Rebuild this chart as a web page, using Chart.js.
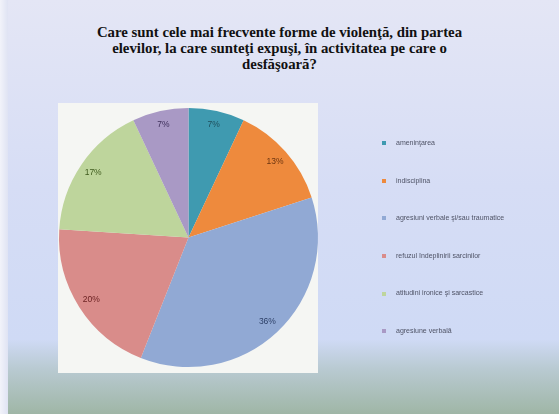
<!DOCTYPE html>
<html lang="ro">
<head>
<meta charset="utf-8"/>
<title>Forme de violenta</title>
<script src="https://cdn.jsdelivr.net/npm/chart.js"></script>
<style>
    html, body { margin: 0; padding: 0; }
    body {
        width: 559px; height: 414px; overflow: hidden; position: relative;
        background: linear-gradient(to bottom, #e4e6f5 0%, #d6ddf5 45%, #cfdaf5 82%, #b9cad2 89%, #9fb6a6 100%);
    }
    #edge { position: absolute; left: 0; top: 0; width: 8px; height: 414px;
        background: linear-gradient(to right, #f2f3fa, #dfe3f3); }
    #title {
        position: absolute; left: 0; top: 25px; width: 559px; text-align: center;
        font-family: "Liberation Serif", "DejaVu Serif", serif; font-weight: bold;
        font-size: 14.8px; line-height: 15.8px; color: #111;
    }
    #chart { position: absolute; left: 0; top: 0; }
    #legend { position: absolute; left: 382px; top: 139px; }
    .item { height: 37.6px; font-family: "Liberation Sans", Arial, sans-serif;
        font-size: 7px; color: #4f5366; white-space: nowrap; }
    .box { display: inline-block; width: 4px; height: 4px; margin-right: 10px; vertical-align: middle; }
</style>
</head>
<body>
<div id="edge"></div>
<div id="title">Care sunt cele mai frecvente forme de violenţă, din partea<br>elevilor, la care sunteţi expuşi, în activitatea pe care o<br>desfăşoară?</div>
<canvas id="chart" width="559" height="414"></canvas>
<div id="legend"></div>
<script>
    var labels = ['ameninţarea', 'indisciplina', 'agresiuni verbale şi/sau traumatice',
        'refuzul îndeplinirii sarcinilor', 'atitudini ironice şi sarcastice', 'agresiune verbală'];
    var values = [7, 13, 36, 20, 17, 7];
    var colors = ['#3f9ab0', '#ee8a3d', '#91a9d4', '#d98c8a', '#bed59c', '#a999c5'];
    var labelColors = ['#1f4f5c', '#6a3410', '#2c3f66', '#6b2222', '#3e5a1c', '#3e2f5a'];

    // white plot background behind the pie
    var plotBg = {
        id: 'plotBg',
        beforeDraw: function (chart) {
            var c = chart.ctx;
            c.save();
            c.fillStyle = '#f5f6f3';
            c.fillRect(58, 103, 260, 270);
            c.restore();
        }
    };

    // percentage labels inside each slice
    var pctLabels = {
        id: 'pctLabels',
        afterDatasetsDraw: function (chart) {
            var c = chart.ctx;
            var meta = chart.getDatasetMeta(0);
            c.save();
            c.font = '8.5px "Liberation Sans", Arial, sans-serif';
            c.textAlign = 'center';
            c.textBaseline = 'middle';
            meta.data.forEach(function (arc, i) {
                var mid = (arc.startAngle + arc.endAngle) / 2;
                var r = arc.outerRadius * 0.89;
                c.fillStyle = labelColors[i];
                c.fillText(values[i] + '%', arc.x + Math.cos(mid) * r, arc.y + Math.sin(mid) * r);
            });
            c.restore();
        }
    };

    new Chart(document.getElementById('chart'), {
        type: 'pie',
        data: {
            labels: labels,
            datasets: [{ data: values, backgroundColor: colors, borderWidth: 0 }]
        },
        options: {
            responsive: false,
            animation: false,
            layout: { padding: { left: 59, right: 241, top: 103, bottom: 42 } },
            plugins: { legend: { display: false }, tooltip: { enabled: false } }
        },
        plugins: [plotBg, pctLabels]
    });

    var lg = document.getElementById('legend');
    labels.forEach(function (l, i) {
        var d = document.createElement('div');
        d.className = 'item';
        d.innerHTML = '<span class="box" style="background:' + colors[i] + '"></span>' + l;
        lg.appendChild(d);
    });
</script>
</body>
</html>
